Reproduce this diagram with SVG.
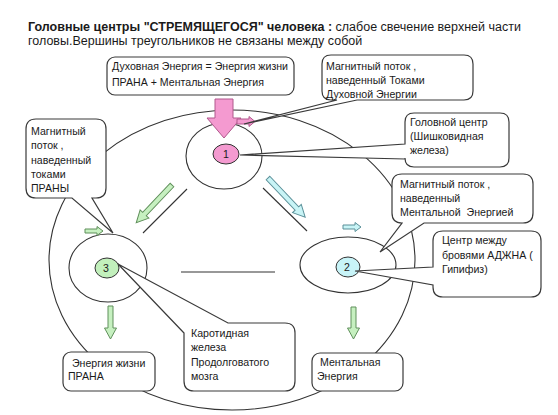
<svg xmlns="http://www.w3.org/2000/svg" width="558" height="415" viewBox="0 0 558 415">
<style>
text{font-family:"Liberation Sans",Arial,sans-serif;fill:#1a1a1a}
.t{font-size:10.6px}
.title{font-size:12.5px}
.box{fill:#fff;stroke:#3a3a3a;stroke-width:1.2}
.ell{fill:none;stroke:#333;stroke-width:1.1}
.ln{stroke:#333;stroke-width:1.1;fill:none}
.pink{fill:#f49ad0;stroke:#b0588c;stroke-width:1}
.green{fill:#c6f0c0;stroke:#5f8f5a;stroke-width:1}
.blue{fill:#c8f4f6;stroke:#5a8f98;stroke-width:1}
</style>
<rect width="558" height="415" fill="#fff"/>
<text class="title" x="28" y="31"><tspan font-weight="bold">Головные центры "СТРЕМЯЩЕГОСЯ" человека :</tspan> слабое свечение верхней части</text>
<text class="title" x="28" y="45">головы.Вершины треугольников не связаны между собой</text>

<ellipse id="outer" class="ell" cx="232" cy="260" rx="183" ry="150"/>

<g id="center1">
<ellipse class="ell" cx="224" cy="156" rx="38" ry="33"/>
<ellipse cx="226" cy="154" rx="13" ry="10" fill="#f49ad0" stroke="#333" stroke-width="1"/>
<text class="t" x="226" y="158" text-anchor="middle">1</text>
</g>
<g id="center2">
<ellipse class="ell" cx="348" cy="265" rx="48" ry="28"/>
<ellipse cx="348" cy="267" rx="12" ry="10" fill="#c8f4f8" stroke="#333" stroke-width="1"/>
<text class="t" x="347" y="271" text-anchor="middle">2</text>
</g>
<g id="center3">
<ellipse class="ell" cx="108" cy="268" rx="39" ry="34"/>
<ellipse cx="107" cy="268" rx="12" ry="10" fill="#c2f0bc" stroke="#333" stroke-width="1"/>
<text class="t" x="106" y="272" text-anchor="middle">3</text>
</g>

<g id="connectors">
<polygon class="pink" points="215,99 233,99 233,118 241,118 224,138 207,118 215,118"/>
<polygon class="pink" points="237,119 249,119 249,116.5 255,121.5 249,126.5 249,124 237,124"/>
<polygon class="green" points="85,229 97,229 97,226.5 103,231 97,235.5 97,233 85,233"/>
<polygon class="blue" points="343,225 355,225 355,222.5 361,227 355,231.5 355,229 343,229"/>
<polygon class="green" points="108,306 113,306 113,328 116.5,328 110.5,339 104.5,328 108,328"/>
<polygon class="green" points="351,307 356,307 356,328 359.5,328 353.5,339 347.5,328 351,328"/>
<polygon class="green" transform="translate(172,185) rotate(133.45)" points="0,-2.5 40,-2.5 40,-6 52,0 40,6 40,2.5 0,2.5"/>
<polygon class="blue" transform="translate(268,178) rotate(46.5)" points="0,-2.5 42,-2.5 42,-6 54,0 42,6 42,2.5 0,2.5"/>
<line class="ln" x1="187" y1="189" x2="143" y2="233"/>
<line class="ln" x1="263" y1="188" x2="307" y2="231"/>
<line class="ln" x1="181" y1="272" x2="275" y2="272"/>
</g>

<g id="box-spirit">
<rect class="box" x="107" y="57" width="187" height="38" rx="8"/>
<text class="t" x="112" y="70">Духовная Энергия = Энергия жизни</text>
<text class="t" x="112" y="86">ПРАНА + Ментальная Энергия</text>
</g>

<g id="box-flux-spirit">
<path class="box" d="M331,55 H464 Q473,55 473,64 V91 Q473,100 464,100 H357 L244,124 L337,100 H331 Q322,100 322,91 V64 Q322,55 331,55 Z"/>
<text class="t" x="326" y="70">Магнитный поток ,</text>
<text class="t" x="326" y="84">наведенный Токами</text>
<text class="t" x="326" y="98">Духовной Энергии</text>
</g>

<g id="box-head">
<path class="box" d="M414,113 H500 Q509,113 509,122 V158 Q509,167 500,167 H414 Q405,167 405,158 V159 L240,155 L405,144 V122 Q405,113 414,113 Z"/>
<text class="t" x="410" y="126">Головной центр</text>
<text class="t" x="410" y="140">(Шишковидная</text>
<text class="t" x="410" y="154">железа)</text>
</g>

<g id="box-flux-prana">
<path class="box" d="M36,119 H96 Q106,119 106,129 V188 Q106,198 96,198 H92 L113,233 L72,198 H36 Q26,198 26,188 V129 Q26,119 36,119 Z"/>
<text class="t" x="31" y="135">Магнитный</text>
<text class="t" x="31" y="149">поток  ,</text>
<text class="t" x="31" y="164">наведенный</text>
<text class="t" x="31" y="178">токами</text>
<text class="t" x="31" y="192">ПРАНЫ</text>
</g>

<g id="box-flux-mental">
<path class="box" d="M402,174 H523 Q533,174 533,184 V213 Q533,223 523,223 H424 L380,252 L402,223 H402 Q392,223 392,213 V184 Q392,174 402,174 Z"/>
<text class="t" x="400" y="188">Магнитный поток ,</text>
<text class="t" x="400" y="202">наведенный</text>
<text class="t" x="400" y="216" xml:space="preserve">Ментальной  Энергией</text>
</g>

<g id="box-ajna">
<path class="box" d="M443,231 H531 Q541,231 541,241 V287 Q541,297 531,297 H443 Q433,297 433,287 V285 L355,271 L433,267 V241 Q433,231 443,231 Z"/>
<text class="t" x="442" y="244">Центр между</text>
<text class="t" x="442" y="259">бровями АДЖНА (</text>
<text class="t" x="442" y="273">Гипифиз)</text>
</g>

<g id="box-carotid">
<path class="box" d="M184,333 L118,264 L228,323 H285 Q295,323 295,333 V381 Q295,391 285,391 H194 Q184,391 184,381 Z"/>
<text class="t" x="191" y="337">Каротидная</text>
<text class="t" x="191" y="351">железа</text>
<text class="t" x="191" y="366">Продолговатого</text>
<text class="t" x="191" y="380">мозга</text>
</g>

<g id="box-prana">
<rect class="box" x="63" y="352" width="92" height="39" rx="8"/>
<text class="t" x="72" y="367">Энергия жизни</text>
<text class="t" x="68" y="380">ПРАНА</text>
</g>

<g id="box-mental">
<rect class="box" x="312" y="353" width="91" height="38" rx="8"/>
<text class="t" x="320" y="366">Ментальная</text>
<text class="t" x="317" y="380">Энергия</text>
</g>
</svg>
